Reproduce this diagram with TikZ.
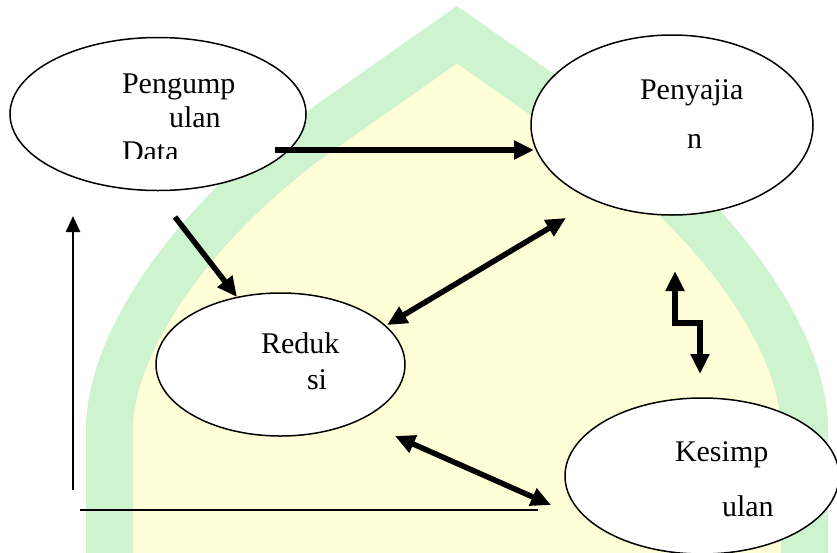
\documentclass[tikz,border=0pt]{standalone}
\usepackage{fontspec}
\setmainfont{Liberation Serif}
\usetikzlibrary{arrows.meta,shapes.geometric}
\definecolor{wmgreen}{RGB}{205,243,207}
\definecolor{wmyellow}{RGB}{255,254,215}
\begin{document}
\begin{tikzpicture}[x=1pt,y=-1pt,
  ell/.style={ellipse, draw=black, line width=1.5pt, fill=white, inner sep=0pt, outer sep=0pt},
  lbl/.style={anchor=base west, inner sep=0pt, outer sep=0pt, font=\fontsize{30}{36}\selectfont},
  bigarrow/.style={line width=5.5pt, -{Triangle[length=20pt,width=18pt]}},
  bigdouble/.style={line width=5.5pt, {Triangle[length=20pt,width=18pt]}-{Triangle[length=20pt,width=18pt]}},
  thinarrow/.style={line width=2.5pt, -{Triangle[length=16pt,width=14pt]}},
  thinline/.style={line width=2pt}]
\useasboundingbox (0,0) rectangle (837,552);
% watermark
\begin{scope}
\clip (0,0) rectangle (837,552);
\path[fill=wmyellow, draw=wmgreen, line width=47pt, miter limit=10]
  (109.5,600) -- (109.5,430) .. controls (109.5,335) and (205,212) .. (318.5,132)
  -- (457,34.7) -- (595.5,132) .. controls (709,212) and (804.5,335) .. (804.5,430)
  -- (804.5,600);
\end{scope}
% ellipses
\node[ell, minimum width=296pt, minimum height=153pt] (P) at (158,114) {};
\node[ell, minimum width=282pt, minimum height=180pt] (S) at (672,125) {};
\node[ell, minimum width=249pt, minimum height=143pt] (R) at (280.5,364.5) {};
\node[ell, minimum width=274pt, minimum height=156pt] (K) at (702,476) {};
% labels
\node[lbl] (p1) at (122,93) {Pengump};
\node[lbl] (p2) at (169,127) {ulan};
\begin{scope}
\clip (0,0) rectangle (837,158);
\node[lbl] (p3) at (122,161) {Data};
\end{scope}
\node[lbl] (s1) at (640,99) {Penyajia};
\node[lbl] (s2) at (687,148) {n};
\node[lbl] (r1) at (261,353) {Reduk};
\node[lbl] (r2) at (307,389) {si};
\node[lbl] (k1) at (675,461) {Kesimp};
\node[lbl] (k2) at (722,516) {ulan};
% connector end points
\coordinate (a1) at (275,150);
\coordinate (a2) at (534,150);
\coordinate (b1) at (175,217);
\coordinate (b2) at (237,297);
\coordinate (c1) at (387,325);
\coordinate (c2) at (566,218);
\coordinate (d1) at (395,436);
\coordinate (d2) at (551,505);
\coordinate (z1) at (675,271);
\coordinate (z2) at (675,323);
\coordinate (z3) at (700,323);
\coordinate (z4) at (700,374);
\coordinate (v1) at (73,490);
\coordinate (v2) at (73,216);
\coordinate (h1) at (80,510);
\coordinate (h2) at (538,510);
% connectors
\draw[bigarrow] (a1) -- (a2);
\draw[bigarrow] (b1) -- (b2);
\draw[bigdouble] (c1) -- (c2);
\draw[bigdouble] (d1) -- (d2);
\draw[bigdouble, line width=6pt, miter limit=10] (z1) -- (z2) -- (z3) -- (z4);
\draw[thinarrow] (v1) -- (v2);
\draw[thinline] (h1) -- (h2);
\end{tikzpicture}
\end{document}
